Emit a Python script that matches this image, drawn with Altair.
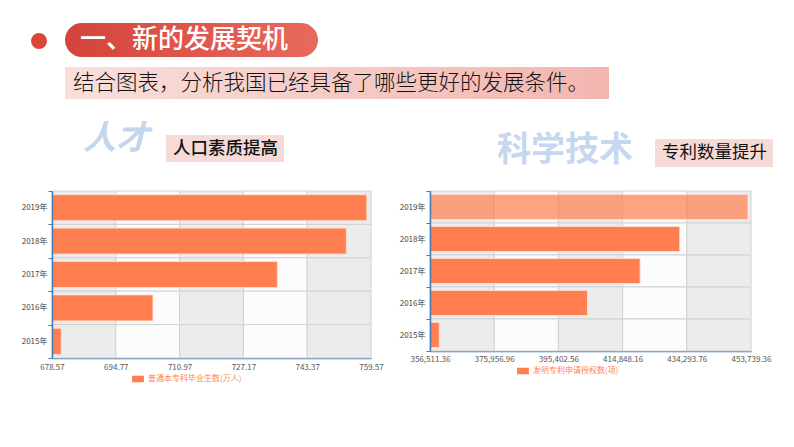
import altair as alt
import pandas as pd

# ---------------- data ----------------
years = ["2019年", "2018年", "2017年", "2016年", "2015年"]
graduates = [758.5, 753.3, 735.8, 704.2, 680.9]
grad_ticks = [678.57, 694.77, 710.97, 727.17, 743.37, 759.57]
grad_series = "普通本专科毕业生数(万人)"

patents = [452804, 432147, 420144, 404208, 359316]
patent_ticks = [356511.36, 375956.96, 395402.56, 414848.16, 434293.76, 453739.36]
patent_series = "发明专利申请授权数(项)"

title_text = "一、新的发展契机"
subtitle_text = "结合图表，分析我国已经具备了哪些更好的发展条件。"
left_word = "人才"
left_label = "人口素质提高"
right_word = "科学技术"
right_label = "专利数量提升"

FONT = "Noto Sans CJK SC"
CORAL = "#ff7f50"
AXIS_BLUE = "#4a78b0"

one = pd.DataFrame({"k": [0]})


def panel(values, ticks, series, x_range, y_range, bar_size, fmt, label_pad,
          legend_xy, highlight_first=False):
    xs = alt.Scale(domain=[ticks[0], ticks[-1]], range=x_range, nice=False, zero=False)
    ys = alt.Scale(domain=years, range=y_range, paddingInner=0, paddingOuter=0)
    x_axis = alt.Axis(values=ticks, format=fmt, orient="bottom", offset=-(447 - y_range[1]),
                      title=None, grid=False, ticks=False, labelPadding=label_pad,
                      labelFont=FONT, labelFontSize=8, labelColor="#555555",
                      domainColor=AXIS_BLUE, domainWidth=1.5, labelFlush=False,
                      labelOverlap=False)
    y_axis = alt.Axis(orient="left", offset=-x_range[0], title=None, grid=False,
                      tickBand="extent", tickSize=4, tickColor=AXIS_BLUE,
                      domainColor=AXIS_BLUE, domainWidth=1.5, labelPadding=1,
                      labelFont=FONT, labelFontSize=8, labelColor="#444444")
    cells = []
    for i in range(len(ticks) - 1):
        for y in years:
            cells.append({"x0": ticks[i], "x1": ticks[i + 1], "year": y, "band": i % 2})
    cells = pd.DataFrame(cells)
    bg = alt.Chart(cells).mark_rect(stroke="#d2d2d2", strokeWidth=1).encode(
        x=alt.X("x0:Q", scale=xs, axis=x_axis),
        x2="x1:Q",
        y=alt.Y("year:N", scale=ys, axis=y_axis),
        fill=alt.condition("datum.band == 0", alt.value("#ececec"), alt.value("#fcfcfc")),
    )
    df = pd.DataFrame({"year": years, "value": values,
                       "base": [ticks[0]] * len(years), "series": [series] * len(years)})
    enc = dict(
        x=alt.X("value:Q", scale=xs, axis=x_axis),
        x2="base:Q",
        y=alt.Y("year:N", scale=ys, axis=y_axis),
        color=alt.Color("series:N", scale=alt.Scale(domain=[series], range=[CORAL]),
                        legend=alt.Legend(orient="none", legendX=legend_xy[0], legendY=legend_xy[1],
                                          title=None, padding=0,
                                          symbolType="M-1,-0.55L1,-0.55L1,0.55L-1,0.55Z",
                                          symbolSize=140, symbolStrokeWidth=0,
                                          labelFont=FONT, labelFontSize=8, labelColor=CORAL,
                                          labelOffset=4)),
    )
    if highlight_first:
        enc["opacity"] = alt.condition(f"datum.year == '{years[0]}'", alt.value(0.7), alt.value(1))
    bars = alt.Chart(df).mark_bar(size=bar_size, stroke="#ffe2d6", strokeWidth=0.8).encode(**enc)
    return alt.layer(bg, bars)


left = panel(graduates, grad_ticks, grad_series, [52, 371], [191, 358], 26, ".2f", 5, [132, 373])
right = panel(patents, patent_ticks, patent_series, [430, 751], [191, 351], 25, ",.2f", 4,
              [517, 365], highlight_first=True)

# ---------------- header decorations ----------------
dot = alt.Chart(one).mark_circle(size=254, color="#d9473b", opacity=1).encode(
    x=alt.value(39), y=alt.value(41))
pill = alt.Chart(one).mark_rect(
    cornerRadius=17,
    color=alt.LinearGradient(gradient="linear", x1=0, x2=1, y1=0, y2=0,
                             stops=[alt.GradientStop(color="#d4433a", offset=0),
                                    alt.GradientStop(color="#e8695d", offset=1)])
).encode(x=alt.value(65), x2=alt.value(318), y=alt.value(23), y2=alt.value(57))
title = alt.Chart(one).mark_text(align="left", baseline="middle", font=FONT, fontSize=26,
                                 fontWeight=500, color="white").encode(
    x=alt.value(80), y=alt.value(40), text=alt.value(title_text))
sub_bg = alt.Chart(one).mark_rect(
    color=alt.LinearGradient(gradient="linear", x1=0, x2=1, y1=0, y2=0,
                             stops=[alt.GradientStop(color="#f9dfdb", offset=0),
                                    alt.GradientStop(color="#f2b6af", offset=1)])
).encode(x=alt.value(65), x2=alt.value(609), y=alt.value(67), y2=alt.value(99))
sub = alt.Chart(one).mark_text(align="left", baseline="middle", font=FONT, fontSize=21.5,
                               fontWeight=300, color="#111111").encode(
    x=alt.value(73), y=alt.value(84), text=alt.value(subtitle_text))

lw = alt.Chart(one).mark_text(align="left", baseline="middle", font=FONT, fontSize=33,
                              fontWeight="bold", fontStyle="italic", color="#c4d6ef").encode(
    x=alt.value(83), y=alt.value(139), text=alt.value(left_word))
lbox = alt.Chart(one).mark_rect(color="#f6dad6").encode(
    x=alt.value(166), x2=alt.value(284), y=alt.value(135), y2=alt.value(162))
ltxt = alt.Chart(one).mark_text(align="left", baseline="middle", font=FONT, fontSize=17.5,
                                fontWeight=500, color="#111111").encode(
    x=alt.value(173), y=alt.value(149), text=alt.value(left_label))

rw = alt.Chart(one).mark_text(align="left", baseline="middle", font=FONT, fontSize=34,
                              fontWeight="bold", color="#c6d7ef").encode(
    x=alt.value(497), y=alt.value(151), text=alt.value(right_word))
rbox = alt.Chart(one).mark_rect(color="#f6dad6").encode(
    x=alt.value(655), x2=alt.value(773), y=alt.value(139), y2=alt.value(167))
rtxt = alt.Chart(one).mark_text(align="left", baseline="middle", font=FONT, fontSize=17.5,
                                color="#111111").encode(
    x=alt.value(662), y=alt.value(153), text=alt.value(right_label))

chart = alt.layer(
    dot, pill, title, sub_bg, sub, lw, lbox, ltxt, rw, rbox, rtxt, left, right
).resolve_scale(
    x="independent", y="independent", color="independent"
).properties(
    width=794, height=447, autosize=alt.AutoSizeParams(type="none"), padding=0,
    background="white"
).configure_view(stroke=None)

chart.save("out.html", embed_options={"renderer": "svg", "actions": False})
